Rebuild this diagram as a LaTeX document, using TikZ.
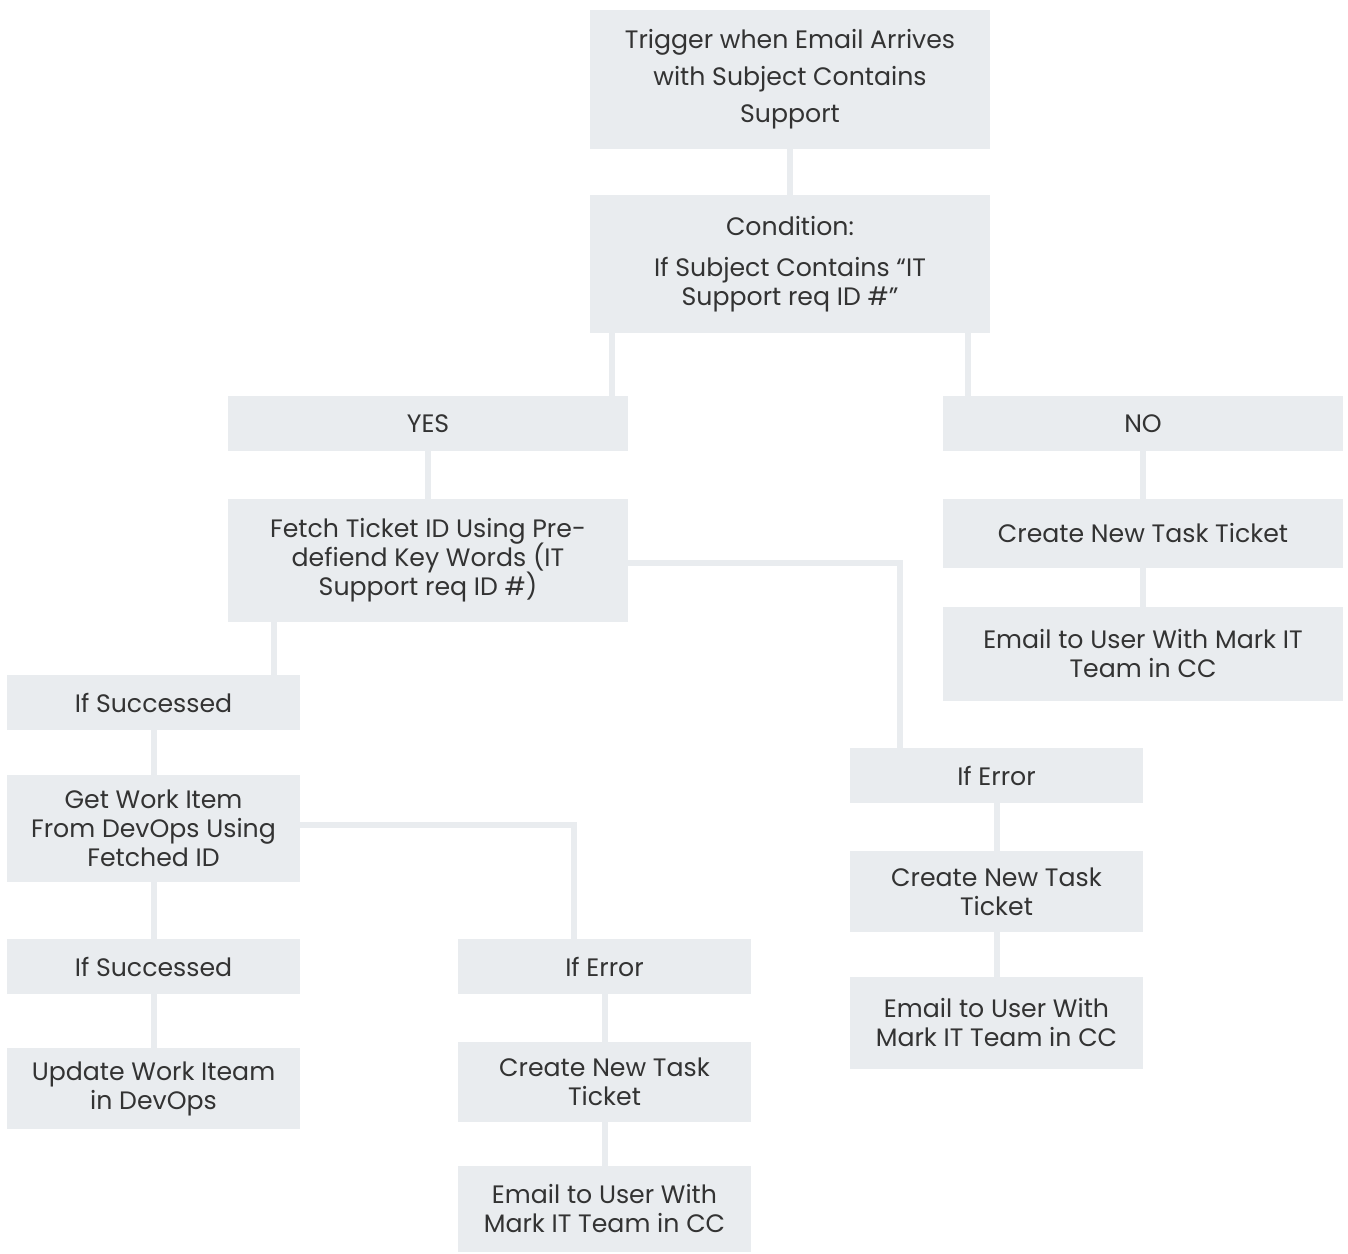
\documentclass[tikz,border=0pt]{standalone}
\usepackage{fontspec}
\setmainfont{Poppins}
\definecolor{boxc}{HTML}{E9ECEF}
\definecolor{txt}{HTML}{333333}
\lineskiplimit=-100pt
\begin{document}
\begin{tikzpicture}[x=0.5pt,y=-0.5pt,
  box/.style={fill=boxc,text=txt,align=center,inner sep=0pt,
    font=\fontsize{12.6}{14.5}\selectfont},
  wbox/.style={box,minimum width=200pt},
  nbox/.style={box,minimum width=146.5pt},
  conn/.style={draw=boxc,line width=3pt}]
\useasboundingbox[fill=white] (0,0) rectangle (1348,1253);
% nodes
\node[wbox,minimum height=69.5pt,font=\fontsize{12.6}{18.5}\selectfont] (trig) at (790,79.5) {Trigger when Email Arrives\\with Subject Contains\\Support};
\node[wbox,minimum height=69pt] (cond) at (790,264) {Condition:\\[6pt]If Subject Contains “IT\\Support req ID \#”};
\node[wbox,minimum height=27.5pt] (yes) at (428,423.5) {YES};
\node[wbox,minimum height=27.5pt] (no) at (1143,423.5) {NO};
\node[wbox,minimum height=61.5pt] (fetch) at (428,560.5) {Fetch Ticket ID Using Pre-\\defiend Key Words (IT\\Support req ID \#)};
\node[wbox,minimum height=34.5pt] (noc) at (1143,533.5) {Create New Task Ticket};
\node[wbox,minimum height=47pt] (noe) at (1143,654) {Email to User With Mark IT\\Team in CC};
\node[nbox,minimum height=27.5pt] (succ1) at (153.5,702.5) {If Successed};
\node[nbox,minimum height=53.5pt] (getw) at (153.5,828.5) {Get Work Item\\From DevOps Using\\Fetched ID};
\node[nbox,minimum height=27.5pt] (errr) at (996.5,775.5) {If Error};
\node[nbox,minimum height=40.5pt] (crr) at (996.5,891.5) {Create New Task\\Ticket};
\node[nbox,minimum height=46pt] (emr) at (996.5,1023) {Email to User With\\Mark IT Team in CC};
\node[nbox,minimum height=27.5pt] (succ2) at (153.5,966.5) {If Successed};
\node[nbox,minimum height=27.5pt] (errm) at (604.5,966.5) {If Error};
\node[nbox,minimum height=40.5pt] (upd) at (153.5,1088.5) {Update Work Iteam\\in DevOps};
\node[nbox,minimum height=40pt] (crm) at (604.5,1082) {Create New Task\\Ticket};
\node[nbox,minimum height=43pt] (emm) at (604.5,1209) {Email to User With\\Mark IT Team in CC};
% helper coordinates on node edges
\path ([xshift=11pt]cond.south west) coordinate (cy);
\path ([xshift=-11pt]cond.south east) coordinate (cn);
\path ([xshift=23pt]fetch.south west) coordinate (fs);
\path ([xshift=25pt]errr.north west) coordinate (er);
\path ([xshift=58pt]errm.north west) coordinate (em);
% connectors
\draw[conn] (trig.south) -- (cond.north);
\draw[conn] (cy) -- (cy |- yes.north);
\draw[conn] (cn) -- (cn |- no.north);
\draw[conn] (yes.south) -- (fetch.north);
\draw[conn] (fs) -- (fs |- succ1.north);
\draw[conn] ([yshift=-1.25pt]fetch.east) -| (er);
\draw[conn] (succ1.south) -- (getw.north);
\draw[conn] ([yshift=1.75pt]getw.east) -| (em);
\draw[conn] (getw.south) -- (succ2.north);
\draw[conn] (succ2.south) -- (upd.north);
\draw[conn] (errm.south) -- (crm.north);
\draw[conn] (crm.south) -- (emm.north);
\draw[conn] (errr.south) -- (crr.north);
\draw[conn] (crr.south) -- (emr.north);
\draw[conn] (no.south) -- (noc.north);
\draw[conn] (noc.south) -- (noe.north);
\end{tikzpicture}
\end{document}
